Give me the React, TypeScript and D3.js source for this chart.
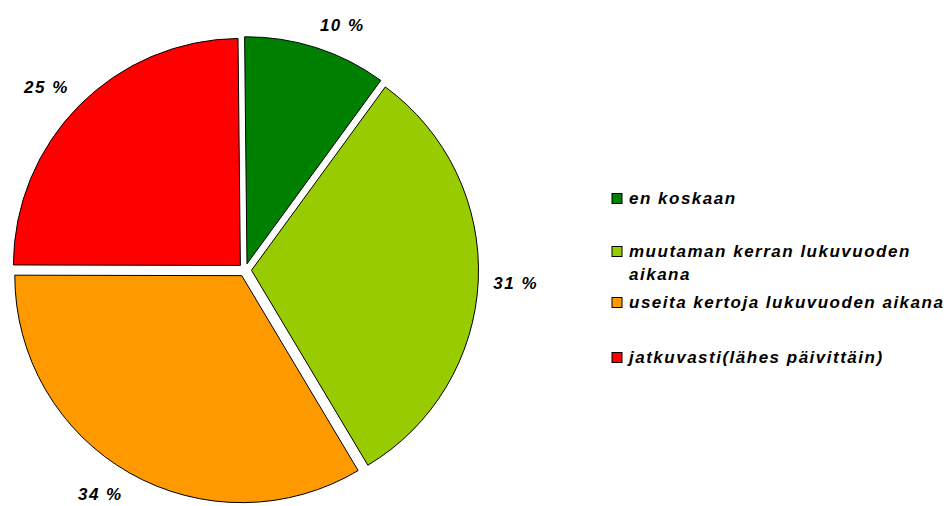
import React from 'react';
import * as d3 from 'd3';

// answer shares (percent)
const categories = [
  'en koskaan',
  'muutaman kerran lukuvuoden aikana',
  'useita kertoja lukuvuoden aikana',
  'jatkuvasti(lähes päivittäin)',
];
const shares = [10.2, 31.4, 33.6, 24.8];
const colors = ['#008000', '#99CC00', '#FF9900', '#FF0000'];

const W = 952;
const H = 506;
const FONT = "Arial, 'Liberation Sans', sans-serif";
const FONT_SIZE = 17;
const SPACING = 1.5;

// pie geometry
const cx = 245;
const cy = 270;
const radius = 227;
const explode = 6.5;
const labelDist = 250;
const labelHalfW = 21;
const labelHalfH = 7;

// legend layout
const legendX = 612;
const legendTextX = 629;
const legendMaxW = 320;
const legendBaselines = [204, 257, 308, 363];
const lineHeight = 23;

let ctx: CanvasRenderingContext2D | null = null;
function textWidth(s: string) {
  if (!ctx) {
    ctx = document.createElement('canvas').getContext('2d');
  }
  if (!ctx) return s.length * 9;
  ctx.font = `italic bold ${FONT_SIZE}px ${FONT}`;
  return ctx.measureText(s).width + s.length * SPACING;
}

function wrap(s: string, maxW: number) {
  const words = s.split(' ');
  const lines: string[] = [];
  let cur = '';
  words.forEach(w => {
    const next = cur ? cur + ' ' + w : w;
    if (cur && textWidth(next) > maxW) {
      lines.push(cur);
      cur = w;
    } else {
      cur = next;
    }
  });
  if (cur) lines.push(cur);
  return lines;
}

const clamp = (v: number) => Math.max(-1, Math.min(1, v));

export default function App() {
  const start = (-0.6 * Math.PI) / 180;
  const pie = d3
    .pie<number>()
    .sort(null)
    .startAngle(start)
    .endAngle(start + 2 * Math.PI);
  const arcs = pie(shares);
  const arc = d3.arc<d3.PieArcDatum<number>>().innerRadius(0).outerRadius(radius);

  const textStyle: React.CSSProperties = {
    fontFamily: FONT,
    fontSize: FONT_SIZE,
    fontWeight: 'bold',
    fontStyle: 'italic',
    letterSpacing: SPACING,
  };

  return (
    <svg
      width={W}
      height={H}
      style={{ position: 'absolute', left: 0, top: 0, background: '#fff' }}
    >
      {arcs.map((a, i) => {
        const mid = (a.startAngle + a.endAngle) / 2;
        const ux = Math.sin(mid);
        const uy = -Math.cos(mid);
        const px = cx + labelDist * ux;
        const py = cy + labelDist * uy;
        const lx = px + labelHalfW * clamp(ux / 0.3);
        const ly = py + labelHalfH * clamp(uy / 0.3);
        return (
          <g key={i}>
            <path
              d={arc(a) || ''}
              transform={`translate(${cx + explode * ux},${cy + explode * uy})`}
              fill={colors[i]}
              stroke="#000"
              strokeWidth={1}
            />
            <text x={lx} y={ly} dy="0.36em" textAnchor="middle" style={textStyle} fill="#000">
              {`${Math.round(a.data)} %`}
            </text>
          </g>
        );
      })}
      {categories.map((c, i) => {
        const lines = wrap(c, legendMaxW);
        const base = legendBaselines[i];
        return (
          <g key={c}>
            <rect
              x={legendX}
              y={base - 10.5}
              width={10}
              height={10}
              fill={colors[i]}
              stroke="#000"
              strokeWidth={1}
            />
            <text x={legendTextX} y={base} style={textStyle} fill="#000">
              {lines.map((l, j) => (
                <tspan key={j} x={legendTextX} y={base + j * lineHeight}>
                  {l}
                </tspan>
              ))}
            </text>
          </g>
        );
      })}
    </svg>
  );
}
